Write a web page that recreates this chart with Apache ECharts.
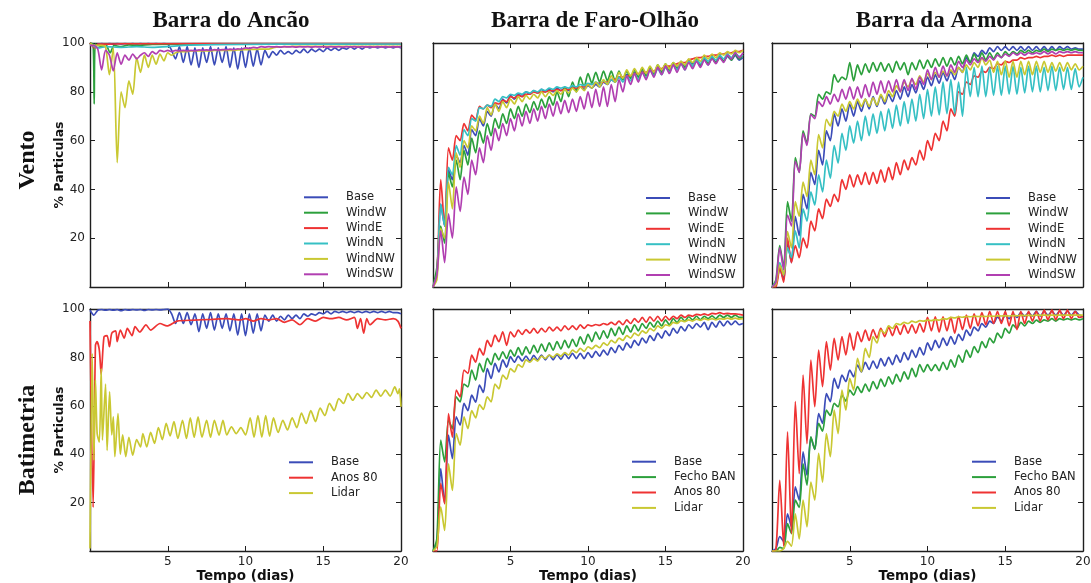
<!DOCTYPE html>
<html><head><meta charset="utf-8">
<script src="https://cdn.jsdelivr.net/npm/echarts@6/dist/echarts.min.js"></script>
<style>html,body{margin:0;padding:0;background:#fff}#c{width:1091px;height:583px}</style>
</head><body><div id="c"></div>
<script>
// ---------- labels ----------
const COLUMN_TITLES = ['Barra do Ancão', 'Barra de Faro-Olhão', 'Barra da Armona'];
const ROW_TITLES = ['Vento', 'Batimetria'];
const Y_NAME = '% Particulas';
const X_NAME = 'Tempo (dias)';
const VENTO_NAMES = ['Base', 'WindW', 'WindE', 'WindN', 'WindNW', 'WindSW'];
const BAT_ANCAO_NAMES = ['Base', 'Anos 80', 'Lidar'];
const BAT_NAMES = ['Base', 'Fecho BAN', 'Anos 80', 'Lidar'];
const X_TICKS = [0, 5, 10, 15, 20];
const Y_TICKS = [0, 20, 40, 60, 80, 100];

// time grid (days), quarter-day steps
const T = [0,0.25,0.5,0.75,1,1.25,1.5,1.75,2,2.25,2.5,2.75,3,3.25,3.5,3.75,4,4.25,4.5,4.75,
5,5.25,5.5,5.75,6,6.25,6.5,6.75,7,7.25,7.5,7.75,8,8.25,8.5,8.75,9,9.25,9.5,9.75,
10,10.25,10.5,10.75,11,11.25,11.5,11.75,12,12.25,12.5,12.75,13,13.25,13.5,13.75,14,14.25,14.5,14.75,
15,15.25,15.5,15.75,16,16.25,16.5,16.75,17,17.25,17.5,17.75,18,18.25,18.5,18.75,19,19.25,19.5,19.75,20];

// ---------- Barra do Ancão / Vento ----------
const tlBase = [100,99,99.5,99.8, 99.5,99.8,99.5,99.8, 99.6,99.8,99.6,99.8, 99.6,99.8,99.6,99.8, 99.6,99.8,99.6,99.8,
99.5,97,93.5,98.5, 92,98.5,91,98, 90,98,92,98.5, 91,98,92,98.5, 90,98,89.3,98,
90,98,90.5,97.5, 91,97,94,96.5, 95,97,95.5,96.5, 95.5,97,96,97.5, 96,97.5,96.5,97.5,
96.5,98,97,98, 97,98,97.5,98.5, 97.5,98.5,97.5,98.5, 98,98.5,98,98.5, 98,98.5,98,98.5, 98];
const tlWindW = [[0,100],[0.2,99.5],[0.27,75],[0.34,99.5],[0.8,98.5],[1,99.5],[1.3,96],[1.55,99],[2,98.5],[2.5,99.2],[3,99],[4,99.4],[6,99.5],[10,99.6],[15,99.7],[20,99.7]];
const tlWindE = [[0,100],[0.3,98],[0.5,99.6],[1,99.5],[2,99.7],[5,99.7],[10,99.8],[20,99.8]];
const tlWindN = [[0,99.5],[0.3,98.5],[0.6,98],[1,98.5],[2,98.2],[3,98.5],[4,98.2],[5,98.5],[6,99],[8,99.3],[12,99.5],[20,99.6]];
const tlWindNW = [100,99,99,99, 98.5,87,98,51, 80,73.5,84.5,79, 94,88,95,90, 95,91.3,95.5,92.7,
96,95,96,96.5, 96.5,96.5,96.8,96.8, 96.8,96.8,96.8,96.8, 97,97,97,97, 97,97,97.2,97.2,
97.3,97.3,97.4,97.4, 97.5,97.5,97.5,98, 98.3,98.4,98.5,98.5, 98.6,98.6,98.6,98.6, 98.6,98.6,98.6,98.6,
98.6,98.6,98.6,98.6, 98.6,98.6,98.6,98.6, 98.6,98.6,98.6,98.6, 98.6,98.6,98.6,98.6, 98.6,98.6,98.6,98.6, 98.6];
const tlWindSW = [99,99,97.5,89, 97,95,88.6,96, 91.3,95,93,95.5, 93.5,95,96,94.5, 96.5,95.5,97,96.5,
97,96.5,97,96.8, 97,96.8,97,96.8, 97.2,97,97.2,97, 97.3,97.1,97.3,97.2, 97.5,97.3,97.6,97.5,
98,97.8,98.2,98, 98.5,98.3,98.5,98.4, 98.5,98.3,98.5,98.4, 98.5,98.3,98.5,98.4, 98.5,98.3,98.5,98.4,
98.5,98.3,98.5,98.4, 98.5,98.3,98.5,98.4, 98.5,98.3,98.5,98.4, 98.5,98.3,98.5,98.4, 98.5,98.3,98.5,98.4, 98.5];

// ---------- Barra de Faro-Olhão / Vento ----------
const tmBase = [0,5,34,25, 48,44,54,51, 58,54,64.5,62, 69,66,72,70, 75,73,77,75.5,
78.5,77,79,78, 80,79,80.5,79.5, 81,80,81,80, 81.5,80.5,81.5,80.5, 82,81,82,81,
82.5,81.5,83,82, 84,83,85,84, 86,85,87,86, 88,87,88.5,87.5, 89,88,90,89,
91,90,91.5,90.5, 92,91,93,91.5, 93.5,90.5,93.5,91, 94,92,94.5,92.5, 94.5,93,95,93, 94];
const tmWindW = [0,8,25,18, 47,41,52,44, 56,50,61,55, 64,59,67,62, 69,65,71,67,
73,69,74,70, 75,71.5,76,72.5, 77,73.5,78,74.5, 80,76,82,78, 84,80,86,82,
87.5,83.5,88,84, 88.5,84.5,88.5,84.5, 88.5,85,88.5,85.5, 89,86,89.5,86.5, 90,87,91,88,
91.5,88.5,92,89.5, 92.5,90,93,90.5, 93.5,91,94,91.5, 94,92,94.5,92.5, 95,93,95.5,93.5, 95];
const tmWindE = [0,5,44,25, 57,52,62,60, 67,64,70.5,68.5, 74,73,74.5,73.5, 75.5,75,76.5,76,
78,77.5,78.5,78, 79,79,80,79.5, 80,80,80.5,80.5, 81,80.5,81,81, 81.5,81.5,82,82,
83,83,83.5,83.5, 84,84,85,85, 86,86,86.5,86.5, 87.5,87.5,88,88, 89,88.5,89.5,89.5,
90.5,90.5,91,91.5, 92,92,93,93.5, 94,94,94.5,94.5, 95,95,95.5,95.5, 96,96,96.5,96.5, 97];
const tmWindN = [0,5,34,25, 49,46,58,54, 64.5,62,69,68, 73.5,73,74.5,74, 77,76,78,77.5,
79,78.5,79.5,79, 80,79.5,80.5,80, 81,80.5,81.5,81, 82,81.5,82,81.5, 82.5,82,83,82.5,
83.5,83,84,83, 84.5,83.5,85,84, 86,84,86.5,84.5, 87.5,85,88,85.5, 89,86.5,89.5,87,
90,88,91,89, 91.5,89,92.5,90.5, 93,91.5,94,92.5, 94.5,93,95,93.5, 95.5,94,96,94.5, 95];
const tmWindNW = [0,3,24,20, 43,32,55,49, 60,57,66,64, 70,67,73.5,70.5, 75,72,76,73.5,
77,75,78,76, 78.5,77,79,77.5, 80,78,80,78.5, 80.5,79,81,79.5, 81.5,80,82,80.5,
83,81.5,84,82, 85,83,86.5,84, 88,85.5,89,86.5, 89.5,87,90,87.5, 90.5,88,91,89,
91.5,89.5,92,90.5, 92.5,91,93.5,92, 94,92.5,95,93.5, 95.5,94,96,95, 96.5,95.5,97,96, 97];
const tmWindSW = [0,5,23,10, 30,20,41,31, 45,38,52,46, 57,51,62,56, 65,60,67,62,
69,64,71,66, 72,67,73,68, 74,69,75,70, 76,71,76.5,71.5, 77,72,78,73,
80,73.5,81,74, 82,74,83,76, 85,80,86.5,83, 87.5,84,88,85, 89,86,90,87,
90.5,87.5,91,88, 91.5,89,92,89.5, 92.5,90,93,91, 93.5,91.5,94,92, 95,93.5,96,94, 96];

// ---------- Barra da Armona / Vento ----------
const trBase = [0,1,7.5,3, 18.5,10,29,21, 38,32,47,42, 56,50,64,60, 71,66,73,68,
75,70,76,72, 77,73,78,74, 78.5,75,79,76, 80.5,77,82,78, 83,79.5,84.5,81,
86,82.5,87,83.5, 88,84.5,88.5,85, 90,88,94,92, 96,94.5,97,95.5, 98,96.5,98.5,97,
98.5,97,98.5,97, 98.5,97,98.5,97, 98.5,97,98.5,97, 98.5,97,98.5,97.5, 98.5,97.5,98,97.5, 97.5];
const trWindW = [0,3,17,8, 35,27,53,47, 64,59,71,70, 79,77,80,79, 87,84,86,85,
92,84.5,91,87, 91.5,88,92,88.5, 92,88.5,91.5,88, 92.5,89,92,87, 92,89,93,89.5,
93,90,93.5,90.5, 94,90.5,94,91, 94.5,91.5,95,92, 95.5,92.5,96,93, 96,93.5,96,94,
96.5,95,96.5,95.5, 97,96,97,96, 97,96.5,97.5,96.5, 97.5,97,97.5,97, 97.5,97,97.5,97, 97];
const trWindE = [0,0,8,2, 20,10,17,12, 20,16,27,23, 32,28,36,33, 38,35,44,40,
46,41,46,42, 47,42,47,42.5, 48,43,49,44, 51,46,52,48, 53,50,56,52,
60,56,63,60, 68,64,73,70, 80,79,84,83, 86.5,86,88.5,88, 90,89.5,91.5,91,
92.5,92,93,93, 94,93.5,94,94, 94.5,94,94.5,94.5, 95,94.5,95,94.5, 95,95,95,95, 95];
const trWindN = [0,2,10,5, 16,12,23,16, 32,27,39,33.6, 46,39,52,44.6, 58,50.8,63,56,
66,59,68,60, 70,62,71,63, 72,64,73,65, 74.5,66,76,67, 77,68,79,69,
81,70,82,70.5, 84,71,85,71, 84,70,90,78, 90,78,90.5,78, 90,78.5,90.5,78.5,
90.5,79,90.5,79, 90,79.5,90.5,80, 90.5,80,90,80.5, 90.5,80.5,90,81, 90,81,89.5,82, 86];
const trWindNW = [0,1,9,5, 22.7,16,35,29, 43,37,52,46, 62.5,57,68.7,66, 72,70,75,72,
76,73,77,74, 77,74,77.5,74.5, 79,76,80.5,78, 82.5,80,84,82, 85,83,86.5,84,
87.5,85,88,86, 88.5,86.5,89,87, 90,88,91,89, 92,90,94,91, 93,88,92.5,87,
92.7,86,92.5,86, 92.5,87,92.5,87, 92.5,88,92.5,88, 92,88.5,92,88.5, 92,89,91.5,89, 90.5];
const trWindSW = [0,2,16,7, 29.5,25,51.5,47, 63,58,70.7,69, 76,74,78,75, 79,76,81,77,
82,77,82,77.5, 83,78,84,79, 84.5,79.5,84.5,80, 85,80,85,80.5, 85.5,81,86,83,
89,85,90,86, 90.5,86.5,91,88, 92.5,90,93,91, 93.5,92,94,92.5, 94.5,93,95,94,
95.5,94.5,96,95, 96,95,96,95.5, 96,95.5,96.5,95.5, 96.5,95.5,96.5,96, 96.5,96,96.5,96, 96];

// ---------- Barra do Ancão / Batimetria ----------
const blBase = [99.5,97.5,99.5,99.8, 99.5,99.8,99.5,99.8, 99.3,99.8,99.5,99.8, 99.6,99.8,99.4,99.8, 99.6,99.8,99.6,99.8,
100,98,94,98.5, 94,98.5,93.5,98, 90.6,98,92,98.5, 91.3,98,92,98, 91,98,89.2,98,
89,98,90,98, 91,97.5,95,97.5, 95,97,95.5,97.5, 96,97.5,96,98, 97,98,97.5,98.5,
98,99,98,99, 98.5,99,98.5,99, 98.5,99,98.5,99, 98.5,99,98.5,99, 98.5,99,98.5,98.5, 98];
const blAnos80 = [[0,95],[0.2,18],[0.35,85],[0.45,86.5],[0.6,83],[0.72,73],[0.9,88.5],[1.1,89],[1.25,84.4],[1.4,90],[1.65,91],
[1.75,86.5],[1.95,91.3],[2.2,88],[2.4,92],[2.7,89],[2.9,92.7],[3.2,90.5],[3.6,93.4],[3.9,91.3],[4.5,94],[4.95,93],[5.6,95],
[6.7,95.4],[7.8,95.7],[8.8,96],[9.7,95.5],[10,96],[10.5,95],[11,96],[11.5,95.5],[12,96],[12.5,94.5],[13,95.5],[13.5,93.5],
[14,96],[14.5,95],[15,96.5],[15.5,96],[16,96.5],[16.5,95.5],[17,96.5],[17.2,92],[17.4,96],[17.6,90],[17.8,96],[18,93.5],
[18.5,96],[19,95.5],[19.5,96],[19.8,95],[20,92]];
const blLidar = [[0,1],[0.14,81.6],[0.25,37.5],[0.35,70.6],[0.46,48.5],[0.6,45],[0.72,75.4],[0.8,45.8],[1.0,69],[1.1,41.6],
[1.26,65.8],[1.4,48],[1.5,55.4],[1.6,39],[1.8,56.8],[1.95,40],[2.1,48],[2.3,39],[2.5,47],[2.75,39.6],[3.0,46],[3.25,43],
[3.4,48.5],[3.65,43],[3.9,49],[4.15,44.5],[4.4,51],[4.65,46],[4.9,52.7],[5.15,47.6],[5.4,53.5],[5.65,46.5],[5.95,54],
[6.2,46.5],[6.45,55],[6.7,47],[6.95,55.4],[7.2,47],[7.5,54],[7.75,47],[8.0,54],[8.3,47.9],[8.55,54],[8.8,48],[9.1,51.3],
[9.4,48.5],[9.7,51],[10.0,48],[10.3,55],[10.55,47],[10.8,56],[11.05,47],[11.3,56],[11.55,47.5],[11.8,55],[12.1,49],
[12.4,54],[12.7,50],[13.0,55],[13.3,51],[13.6,57],[13.9,52.7],[14.2,58],[14.5,53.5],[14.8,59],[15.1,56],[15.4,61],
[15.7,58],[16.0,63],[16.3,61],[16.6,65],[16.9,62.3],[17.2,65],[17.5,63],[17.8,65.5],[18.1,63.5],[18.4,66.5],[18.7,64],
[19.0,66.5],[19.3,64],[19.6,67.8],[19.8,65],[19.9,67],[20,59.6]];

// ---------- Barra de Faro-Olhão / Batimetria ----------
const bmBase = [0,3,34,19.6, 47.9,38.2,55.4,52, 61,58,64.4,61.5, 68.6,65.5,75.4,71.3, 77.5,74,79,76,
80.3,78,80.5,78.5, 80.5,78.5,80.8,79, 81,79,81,79, 81.2,79.2,81.5,79.5, 81.7,79.5,81.7,79.5,
82,80,82.5,80.5, 83,81,84,82, 85,83,86,84, 87,85,88,86, 89,87,90,88,
91,89,92,90, 92.7,91,93.5,92, 94,92.5,94.5,91.5, 94.5,92.5,95,93, 95,93.5,95,93.5, 94];
const bmFecho = [0,5,45.8,36.8, 54,50.6,63.7,61.6, 69,67.8,74.8,70.6, 77.5,74,79.6,77, 81.7,79,82.3,79.5,
83,80.5,84,81, 84.4,81.5,85,82, 85.5,82.5,86,83, 86.5,83.5,87,84, 87.5,84.5,88.5,85.5,
89.5,86.5,90.5,87.5, 91,88,92,89, 92.5,89.5,93,90.5, 93.5,91,94,92, 94.5,92.5,95,93,
95.5,93.5,96,94.5, 96.5,95,96.8,95.5, 97,95.5,97,96, 97.2,96,97.5,96.5, 97.5,96.5,97.5,96.5, 96.5];
const bmAnos80 = [0,0,28,19.6, 56.8,47,66.5,63.7, 74.8,73.4,81,78, 83.7,81,87,84.4, 89.2,86.5,90.6,85,
90.6,88.5,91.3,89.5, 91.5,90,92,90, 92,90.5,92.5,91, 92.5,91,93,91.5, 93,91.5,93.4,92,
93.4,93,93.6,93.2, 94,93.5,94.5,93.5, 95,93.5,95.5,94, 96,94.5,96.5,94.5, 96.8,95,97,95,
97,95.5,97,96, 97.5,96.5,97.5,97, 97.8,97.5,98,97.5, 98.2,98,98.5,98, 98.2,98,98,97.8, 97.5];
const bmLidar = [0,2,18.2,8.5, 36,25,48.5,43.7, 55.4,50.6,58,55, 60.5,58.5,63.7,61.6, 69,67,72.7,71,
75.4,74,77,76, 79,78,79.5,78.5, 80.5,79.5,81,80, 81.5,80.5,82,81, 83,82,83.7,82.5,
84.4,83.5,85,84, 86,85,87,86, 88,87,89,88, 90,89,91,90, 92,91,93,92,
93.5,93,94.5,94, 95.2,94.8,95.5,95, 95.8,95.3,96,95.5, 96,95.5,96,95.8, 96.2,95.8,96.2,95.8, 96];

// ---------- Barra da Armona / Batimetria ----------
const brBase = [0,1,6,4, 15.4,10,26.5,21, 41,31.3,47,42, 56.8,52.7,65,61.7, 71.3,67.2,72.7,70,
74.8,72,76.8,74, 78,75,78.5,75.5, 79.5,76.5,80,77, 81,78,82,79, 83,80,84,81,
86,83,87,84, 88,85,88.6,85.5, 89.5,87,91.3,89, 92.5,91,94,92.5, 95,94,96.8,95,
97.5,96,98,96.5, 98.5,97,98.5,97, 99,97,99,97.5, 99,97.5,99,97.5, 99,97.5,99,97.5, 97];
const brFecho = [0,0,1.5,1, 11.3,7.2,21,18, 36,27.2,47.2,42, 52.7,49.5,58.2,56, 61,59.6,64.4,62,
66.5,64.4,67.9,65.5, 69,66,70,67, 71,68,72,69, 73,70,74,71, 75.5,72,77,74,
77,74.5,77,74.5, 78,75,79,76, 81,78,83,80, 84.5,82,86.5,84, 88,86,90,88,
92,90,93.4,92, 94.5,93,95,94, 95.4,94.5,95.5,95, 96,95,96,95.5, 96,95.5,96,95.5, 96];
const brAnos80 = [0,0.5,29.2,2, 49.2,7.2,61.7,32, 72.7,44.4,78.9,59.6, 83,67.9,86.5,74.8, 87.9,78.9,88.6,81,
90,83,90.6,86.5, 91.3,87,91.5,88, 92,88.6,92.5,89, 93,89.5,93.4,90, 93.5,90,94,90.5,
96.5,91,96.8,90.5, 96.8,91,96.5,90, 97,91.5,97.5,92, 98,93,98.5,93.5, 99,94,99,94,
99,93,99,91.5, 99,94,99,95, 99,95,99.5,95.5, 99.5,95.5,99.5,96, 99.5,96,99,96.5, 96.8];
const brLidar = [0,0,0,1, 4,2,15.4,5, 21,10,28.5,21, 40.3,28.5,48.5,39, 58.2,48.5,66.5,58.2,
71.3,66.5,79.6,74, 83.7,80,88.6,86, 91.3,90,93,92, 94,93.5,94.5,94, 95,94.5,95.2,95,
95.4,95.2,95.6,95.4, 96,95.8,96.5,96.3, 96.8,96.6,96.9,96.8, 97,96.9,97,96.9, 97.1,97,97.2,97.1,
97.2,97.1,97.3,97.2, 97.4,97.3,97.4,97.3, 97.5,97.4,97.5,97.4, 97.5,97.4,97.5,97.5, 97.5,97.5,97.5,97.5, 97.5];

// ---------- styling ----------
const COLORS = {
  'Base': '#3b4cb8', 'WindW': '#2ca03c', 'WindE': '#ee3333', 'WindN': '#36c0c4',
  'WindNW': '#c9c832', 'WindSW': '#b13fb1', 'Fecho BAN': '#2ca03c', 'Anos 80': '#ee3333', 'Lidar': '#c9c832'
};
const FRAME = '#1e1e1e';
const SANS = '"DejaVu Sans", sans-serif';
const SERIF = '"Liberation Serif", "DejaVu Serif", serif';

function toPairs(arr) {
  if (typeof arr[0] === 'number') return arr.map((v, i) => [T[i], v]);
  return arr;
}

const panels = [
  {grid: {left: 90, top: 43, width: 311, height: 244}, names: VENTO_NAMES,
   data: [tlBase, tlWindW, tlWindE, tlWindN, tlWindNW, tlWindSW], leg: {left: 304, top: 190.3}, firstCol: true, bottom: false},
  {grid: {left: 433, top: 43, width: 310, height: 244}, names: VENTO_NAMES,
   data: [tmBase, tmWindW, tmWindE, tmWindN, tmWindNW, tmWindSW], leg: {left: 646, top: 191}, firstCol: false, bottom: false},
  {grid: {left: 772, top: 43, width: 311, height: 244}, names: VENTO_NAMES,
   data: [trBase, trWindW, trWindE, trWindN, trWindNW, trWindSW], leg: {left: 986, top: 191}, firstCol: false, bottom: false},
  {grid: {left: 90, top: 309, width: 311, height: 242}, names: BAT_ANCAO_NAMES,
   data: [blBase, blAnos80, blLidar], leg: {left: 289, top: 455.3}, firstCol: true, bottom: true},
  {grid: {left: 433, top: 309, width: 310, height: 242}, names: BAT_NAMES,
   data: [bmBase, bmFecho, bmAnos80, bmLidar], leg: {left: 632, top: 454.7}, firstCol: false, bottom: true},
  {grid: {left: 772, top: 309, width: 311, height: 242}, names: BAT_NAMES,
   data: [brBase, brFecho, brAnos80, brLidar], leg: {left: 972, top: 454.7}, firstCol: false, bottom: true}
];

const option = {
  animation: false, backgroundColor: '#ffffff',
  grid: [], xAxis: [], yAxis: [], series: [], legend: [], graphic: []
};

const axisLine = {show: true, onZero: false, lineStyle: {color: FRAME, width: 1.4}};
const axisTick = {show: true, inside: true, length: 5, lineStyle: {color: FRAME, width: 1}};

panels.forEach((p, i) => {
  option.grid.push(Object.assign({containLabel: false, outerBoundsMode: 'none'}, p.grid));
  option.xAxis.push({
    gridIndex: i, type: 'value', min: X_TICKS[0], max: X_TICKS[X_TICKS.length - 1], interval: X_TICKS[1] - X_TICKS[0],
    position: 'bottom', axisLine, axisTick, splitLine: {show: false},
    axisLabel: {show: p.bottom, showMinLabel: false, color: '#222', fontSize: 12, fontFamily: SANS, margin: 5},
    name: p.bottom ? X_NAME : '', nameLocation: 'middle', nameGap: 18, nameMoveOverlap: false,
    nameTextStyle: {fontFamily: SANS, fontWeight: 'bold', fontSize: 13.5, color: '#111'}
  });
  option.xAxis.push({
    gridIndex: i, type: 'value', min: X_TICKS[0], max: X_TICKS[X_TICKS.length - 1], interval: X_TICKS[1] - X_TICKS[0],
    position: 'top', axisLine, axisTick, splitLine: {show: false}, axisLabel: {show: false}
  });
  option.yAxis.push({
    gridIndex: i, type: 'value', min: Y_TICKS[0], max: Y_TICKS[Y_TICKS.length - 1], interval: Y_TICKS[1] - Y_TICKS[0],
    position: 'left', axisLine, axisTick, splitLine: {show: false},
    axisLabel: {show: p.firstCol, showMinLabel: false, color: '#222', fontSize: 12, fontFamily: SANS, margin: 5},
    name: p.firstCol ? Y_NAME : '', nameLocation: 'middle', nameGap: 24, nameRotate: 90, nameMoveOverlap: false,
    nameTextStyle: {fontFamily: SANS, fontWeight: 'bold', fontSize: 12.5, color: '#111'}
  });
  option.yAxis.push({
    gridIndex: i, type: 'value', min: Y_TICKS[0], max: Y_TICKS[Y_TICKS.length - 1], interval: Y_TICKS[1] - Y_TICKS[0],
    position: 'right', axisLine, axisTick, splitLine: {show: false}, axisLabel: {show: false}
  });
  p.names.forEach((nm, k) => {
    option.series.push({
      type: 'line', name: nm, xAxisIndex: 2 * i, yAxisIndex: 2 * i,
      data: toPairs(p.data[k]), showSymbol: false, symbol: 'none', smooth: 0.25, clip: true,
      lineStyle: {width: 1.7, color: COLORS[nm]}, itemStyle: {color: COLORS[nm]}, z: 2 + k
    });
  });
  option.legend.push({
    orient: 'vertical', left: p.leg.left, top: p.leg.top, data: p.names.slice(), selectedMode: false,
    icon: 'rect', itemWidth: 24, itemHeight: 2, itemGap: 1.4, padding: 0,
    textStyle: {fontFamily: SANS, fontSize: 11.5, color: '#222', lineHeight: 14, padding: [0, 0, 0, 13]}
  });
});

// column titles
const titleX = [231, 595, 944];
COLUMN_TITLES.forEach((t, i) => {
  option.graphic.push({type: 'text', x: titleX[i], y: 21, z: 100,
    style: {text: t, font: 'bold 23px ' + SERIF, fill: '#111', align: 'center', verticalAlign: 'middle'}});
});
// row titles
const rowY = [160, 440];
ROW_TITLES.forEach((t, i) => {
  option.graphic.push({type: 'text', x: 28, y: rowY[i], rotation: Math.PI / 2, z: 100,
    style: {text: t, font: 'bold 24px ' + SERIF, fill: '#111', align: 'center', verticalAlign: 'middle'}});
});

const chart = echarts.init(document.getElementById('c'), null, {renderer: 'canvas'});
chart.setOption(option);
</script>
</body></html>
